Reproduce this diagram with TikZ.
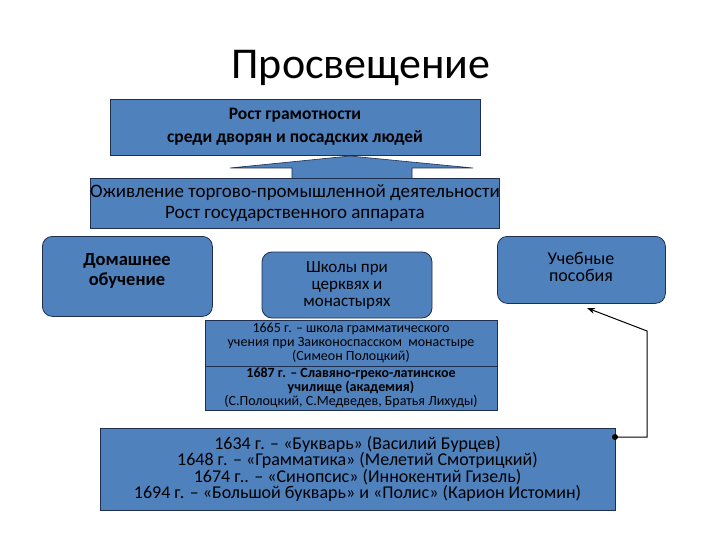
\documentclass[tikz,border=0pt]{standalone}
\usepackage{fontspec}
\setmainfont{Carlito}
\usetikzlibrary{arrows.meta}
\definecolor{bx}{HTML}{4F81BD}
\definecolor{bd}{HTML}{1F2F4F}
\tikzset{
 box/.style={draw=bd,fill=bx,line width=0.8pt,align=center,inner sep=0pt},
 rbox/.style={box,rounded corners=10pt},
 conn/.style={line width=1pt,draw=black}
}
\begin{document}
\begin{tikzpicture}[x=1pt,y=-1pt]
\useasboundingbox (0,0) rectangle (720,540);
\fill[white] (0,0) rectangle (720,540);
\node[font=\fontsize{44}{46}\selectfont] (title) at (361,68) {Просвещение};
\node[box,minimum width=370pt,minimum height=56pt,font=\fontsize{17.5}{23}\selectfont\bfseries] (top) at (295,127) {Рост грамотности\\ среди дворян и посадских людей};
\node[box,minimum width=370pt,minimum height=50pt,font=\fontsize{19}{21}\selectfont] (sec) at (295,203) {Оживление торгово-промышленной деятельности\\ Рост государственного аппарата};
\filldraw[fill=bx,draw=bd,line width=0.6pt] (292,178) -- (292,168) -- (230,168) -- (350,156) -- (473,168) -- (412,168) -- (412,178);
\node[rbox,minimum width=170pt,minimum height=80pt,anchor=north west] (home) at (42,236) {};
\node[align=center,anchor=north,font=\fontsize{18.5}{20}\selectfont\bfseries] (homet) at (127,250) {Домашнее\\ обучение};
\node[rbox,minimum width=170pt,minimum height=66pt,font=\fontsize{17}{17}\selectfont] (church) at (347,285) {Школы при\\ церквях и\\ монастырях};
\node[rbox,minimum width=168pt,minimum height=67pt,anchor=north west] (books) at (497,236) {};
\node[align=center,anchor=north,font=\fontsize{18}{17}\selectfont] (bookst) at (581,249) {Учебные\\ пособия};
\node[box,minimum width=292pt,minimum height=46pt,font=\fontsize{14}{14}\selectfont] (s1) at (351,343) {1665 г. – школа грамматического\\ учения при Заиконоспасском \ монастыре\\ (Симеон Полоцкий)};
\node[box,minimum width=292pt,minimum height=44pt,font=\fontsize{14}{14}\selectfont] (s2) at (351,388) {\textbf{1687 г. – Славяно-греко-латинское}\\ \textbf{училище (академия)}\\ (С.Полоцкий, С.Медведев, Братья Лихуды)};
\node[box,minimum width=515pt,minimum height=82pt,font=\fontsize{18}{16.5}\selectfont] (bot) at (357.5,469) {1634 г. – «Букварь» (Василий Бурцев)\\ 1648 г. – «Грамматика» (Мелетий Смотрицкий)\\ 1674 г.. – «Синопсис» (Иннокентий Гизель)\\ 1694 г. – «Большой букварь» и «Полис» (Карион Истомин)};
\coordinate (d) at (615,437);
\coordinate (c1) at (647,437);
\coordinate (c2) at (647,331);
\coordinate (t) at (587,308);
\fill (d) circle (3pt);
\draw[conn,-{Stealth[length=8pt]}] (d) -- (c1) -- (c2) -- (t);
\end{tikzpicture}
\end{document}
